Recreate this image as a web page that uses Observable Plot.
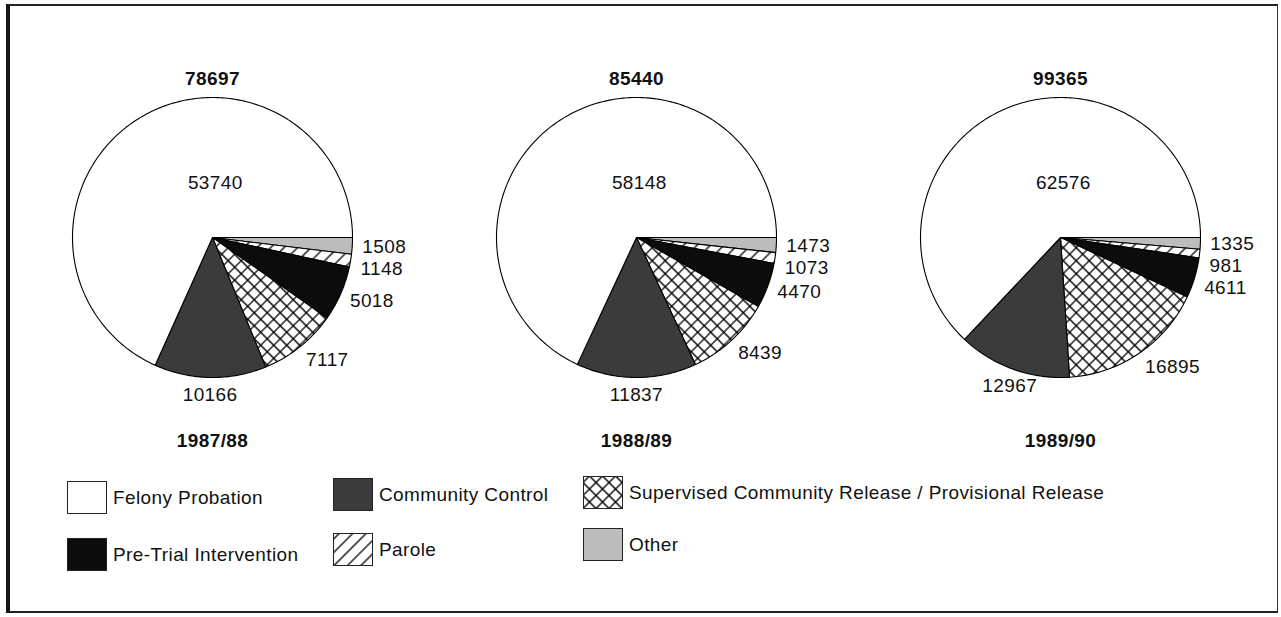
<!DOCTYPE html>
<html><head><meta charset="utf-8">
<script src="https://cdn.jsdelivr.net/npm/d3@7"></script>
<script src="https://cdn.jsdelivr.net/npm/@observablehq/plot@0.6"></script>
<style>
body{margin:0;background:#fff;width:1281px;height:617px;position:relative;overflow:hidden;font-family:"Liberation Sans",Arial,sans-serif;}
#frame{position:absolute;left:6px;top:4px;width:1272px;height:609px;border-left:4px solid #151515;border-top:2px solid #222;border-right:1px solid #333;border-bottom:2px solid #222;box-sizing:border-box;}
#chart{position:absolute;left:0;top:0;}
#chart svg text{letter-spacing:0.4px;}
.leg{position:absolute;display:flex;align-items:center;font-size:19px;letter-spacing:0.4px;color:#111;white-space:nowrap;}
.leg svg{margin-right:6px;display:block;}
</style></head><body>
<svg width="0" height="0" style="position:absolute"><defs>
<pattern id="cross" patternUnits="userSpaceOnUse" width="9.2" height="9.2" patternTransform="rotate(45)">
<rect width="9.2" height="9.2" fill="#fff"/><path d="M0,4.6H9.2M4.6,0V9.2" stroke="#000" stroke-width="1.3"/></pattern>
<pattern id="hatch" patternUnits="userSpaceOnUse" width="9.5" height="9.5" patternTransform="rotate(45)">
<rect width="9.5" height="9.5" fill="#fff"/><path d="M4.75,0V9.5" stroke="#000" stroke-width="1.3"/></pattern>
</defs></svg>
<div id="frame"></div>
<div id="chart"></div>
<div id="legend"></div>
<script>
// ---- data ----
const years = ["1987/88", "1988/89", "1989/90"];
const totals = [78697, 85440, 99365];
const categories = ["Felony Probation", "Community Control", "Supervised Community Release / Provisional Release", "Pre-Trial Intervention", "Parole", "Other"];
const felonyProbation = [53740, 58148, 62576];
const communityControl = [10166, 11837, 12967];
const supervisedRelease = [7117, 8439, 16895];
const preTrial = [5018, 4470, 4611];
const parole = [1148, 1073, 981];
const other = [1508, 1473, 1335];
const fills = ["#ffffff", "#3b3b3b", "url(#cross)", "#0c0c0c", "url(#hatch)", "#bcbcbc"];

const valuesByCat = {
  [categories[0]]: felonyProbation,
  [categories[1]]: communityControl,
  [categories[2]]: supervisedRelease,
  [categories[3]]: preTrial,
  [categories[4]]: parole,
  [categories[5]]: other
};
// drawing order: clockwise from 3 o'clock
const order = [categories[5], categories[4], categories[3], categories[2], categories[1], categories[0]];

const R = 140; // px per unit radius
const slices = [], startLabels = [], midLabels = [], innerLabels = [], totalLabels = [], yearLabels = [];
years.forEach((yr, i) => {
  const total = totals[i];
  let a0 = 0;
  let lastY = Infinity;
  order.forEach(cat => {
    const v = valuesByCat[cat][i];
    const a1 = a0 + v / total * 2 * Math.PI;
    const n = Math.max(2, Math.ceil((a1 - a0) / (Math.PI / 180)));
    slices.push({year: yr, cat, x: 0, y: 0});
    for (let k = 0; k <= n; k++) {
      const t = a0 + (a1 - a0) * k / n;
      slices.push({year: yr, cat, x: Math.cos(t), y: -Math.sin(t)});
    }
    if (cat === categories[0]) {
      innerLabels.push({year: yr, x: 0.02, y: 0.39, text: String(v)});
    } else {
      const m = (a0 + a1) / 2;
      const c = Math.cos(m), s = Math.sin(m);
      if (c > 0.4) {
        let y = -((R + 17) * s) / R;
        const gap = 22 / R;
        if (y > lastY - gap) y = lastY - gap;
        lastY = y;
        startLabels.push({year: yr, x: (R + 10) * c / R, y, text: String(v)});
      } else {
        midLabels.push({year: yr, x: (R + 10) * c / R, y: -((R + 10) * s + 7) / R, text: String(v)});
      }
    }
    a0 = a1;
  });
  totalLabels.push({year: yr, x: 0, y: 1.136, text: String(total)});
  yearLabels.push({year: yr, x: 0, y: -1.45, text: yr});
});

const W = 1281, H = 470;
const half = (W - 9) / 3 / 2 / R;
const cy = 237;
const chart = Plot.plot({
  width: W, height: H,
  marginLeft: 0, marginRight: 9, marginTop: 0, marginBottom: 0,
  style: {fontFamily: "'Liberation Sans', Arial, sans-serif", background: "transparent", color: "#111"},
  fx: {domain: years, padding: 0, axis: null},
  x: {domain: [-half, half], axis: null},
  y: {domain: [-(H - cy) / R, cy / R], axis: null},
  color: {type: "ordinal", domain: categories, range: fills},
  marks: [
    Plot.line(slices, {x: "x", y: "y", fx: "year", z: "cat", fill: "cat", stroke: "#000", strokeWidth: 1.1, curve: "linear-closed", strokeLinejoin: "round"}),
    Plot.text(innerLabels, {x: "x", y: "y", fx: "year", text: "text", fontSize: 19, fill: "#111"}),
    Plot.text(startLabels, {x: "x", y: "y", fx: "year", text: "text", fontSize: 19, fill: "#111", textAnchor: "start"}),
    Plot.text(midLabels, {x: "x", y: "y", fx: "year", text: "text", fontSize: 19, fill: "#111", textAnchor: "middle"}),
    Plot.text(totalLabels, {x: "x", y: "y", fx: "year", text: "text", fontSize: 19, fontWeight: "bold", fill: "#111"}),
    Plot.text(yearLabels, {x: "x", y: "y", fx: "year", text: "text", fontSize: 19, fontWeight: "bold", fill: "#111"})
  ]
});
document.getElementById("chart").appendChild(chart);

// ---- legend (HTML) ----
const legendLayout = [
  {cat: categories[0], left: 67, top: 481},
  {cat: categories[3], left: 67, top: 538},
  {cat: categories[1], left: 333, top: 478},
  {cat: categories[4], left: 333, top: 533},
  {cat: categories[2], left: 583, top: 476},
  {cat: categories[5], left: 583, top: 528}
];
const leg = document.getElementById("legend");
legendLayout.forEach(({cat, left, top}) => {
  const fill = fills[categories.indexOf(cat)];
  const item = document.createElement("div");
  item.className = "leg";
  item.style.left = left + "px";
  item.style.top = top + "px";
  item.innerHTML = `<svg width="40" height="33"><rect x="0.5" y="0.5" width="39" height="32" fill="${fill}" stroke="#222" stroke-width="1"/></svg><span>${cat}</span>`;
  leg.appendChild(item);
});
</script>
</body></html>
